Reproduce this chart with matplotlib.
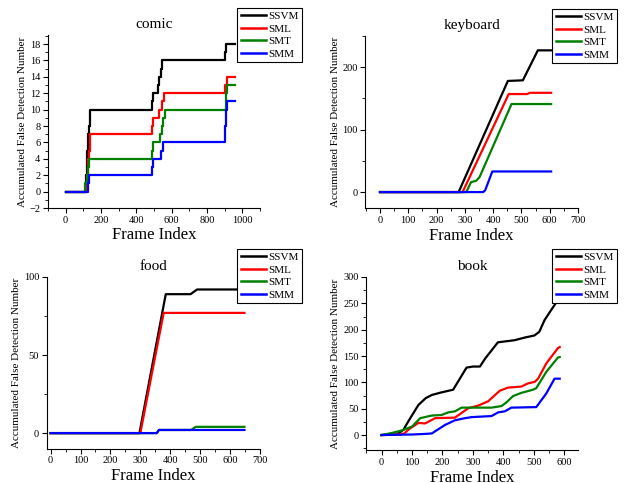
import matplotlib
matplotlib.use("Agg")
import matplotlib.pyplot as plt
from matplotlib.ticker import MultipleLocator

plt.rcParams['font.family'] = ['Liberation Serif', 'DejaVu Serif']

labels = ['SSVM', 'SML', 'SMT', 'SMM']
colors = ['#000000', '#ff0000', '#008000', '#0000ff']

# comic (step data)
comic_ssvm_x = [0, 115, 120, 125, 130, 135, 140, 490, 495, 520, 530, 540, 548, 555, 900, 910, 960]
comic_ssvm_y = [0, 2, 5, 7, 8, 9, 10, 11, 12, 13, 14, 15, 16, 16, 17, 18, 18]
comic_sml_x = [0, 120, 125, 130, 135, 140, 490, 495, 530, 545, 558, 900, 915, 960]
comic_sml_y = [0, 2, 4, 5, 6, 7, 8, 9, 10, 11, 12, 13, 14, 14]
comic_smt_x = [0, 110, 120, 125, 130, 490, 495, 535, 545, 552, 560, 905, 910, 915, 960]
comic_smt_y = [0, 1, 2, 3, 4, 5, 6, 7, 8, 9, 10, 11, 12, 13, 13]
comic_smm_x = [0, 125, 130, 490, 495, 540, 550, 900, 905, 910, 915, 960]
comic_smm_y = [0, 1, 2, 3, 4, 5, 6, 8, 9, 10, 11, 11]

# keyboard
kb_ssvm_x = [0, 278, 452, 505, 558, 605]
kb_ssvm_y = [0, 0, 178, 179, 227, 227]
kb_sml_x = [0, 292, 455, 520, 530, 605]
kb_sml_y = [0, 0, 157, 157, 159, 159]
kb_smt_x = [0, 305, 322, 340, 352, 465, 605]
kb_smt_y = [0, 0, 16, 18, 24, 141, 141]
kb_smm_x = [0, 365, 372, 397, 605]
kb_smm_y = [0, 0, 3, 33, 33]

# food
food_ssvm_x = [0, 297, 385, 468, 475, 490, 648]
food_ssvm_y = [0, 0, 89, 89, 90, 92, 92]
food_sml_x = [0, 300, 378, 648]
food_sml_y = [0, 0, 77, 77]
food_smt_x = [0, 355, 362, 470, 485, 648]
food_smt_y = [0, 0, 2, 2, 4, 4]
food_smm_x = [0, 355, 362, 648]
food_smm_y = [0, 0, 2, 2]

# book
book_ssvm_x = [0, 50, 72, 88, 121, 145, 165, 197, 235, 255, 279, 300, 323, 340, 382, 437, 470, 502, 518, 535, 560, 579, 585]
book_ssvm_y = [0, 1, 10, 26, 57, 70, 76, 81, 86, 105, 128, 130, 130, 145, 176, 180, 185, 189, 196, 218, 240, 256, 258]
book_sml_x = [0, 60, 75, 90, 121, 143, 176, 241, 285, 318, 350, 388, 415, 459, 481, 503, 514, 541, 579, 585]
book_sml_y = [0, 1, 3, 11, 23, 22, 32, 33, 51, 56, 64, 84, 90, 92, 98, 101, 107, 136, 165, 167]
book_smt_x = [0, 35, 68, 100, 127, 165, 197, 219, 241, 263, 361, 394, 410, 432, 459, 497, 508, 541, 579, 585]
book_smt_y = [0, 4, 9, 16, 32, 37, 38, 43, 45, 52, 52, 55, 62, 74, 80, 86, 89, 120, 147, 148]
book_smm_x = [0, 100, 140, 165, 208, 241, 274, 296, 361, 383, 405, 426, 508, 541, 568, 585]
book_smm_y = [0, 1, 2, 3, 19, 28, 32, 34, 36, 43, 45, 52, 53, 79, 107, 107]

W, H = 626, 483
fig = plt.figure(figsize=(W / 100, H / 100), dpi=100)


def rect(l, r, t, b):
    return [l / W, 1 - b / H, (r - l) / W, (b - t) / H]


panels = [
    dict(title='comic', rect=rect(48, 260, 35, 208), step=True,
         data=[(comic_ssvm_x, comic_ssvm_y), (comic_sml_x, comic_sml_y),
               (comic_smt_x, comic_smt_y), (comic_smm_x, comic_smm_y)],
         xlim=(-100, 1100), ylim=(-2, 19.1), xmaj=200, xmin=100, ymaj=2, ymin=1,
         xticks=[0, 200, 400, 600, 800, 1000], leg=(302, 8)),
    dict(title='keyboard', rect=rect(365.3, 578, 36, 208.3), step=False,
         data=[(kb_ssvm_x, kb_ssvm_y), (kb_sml_x, kb_sml_y),
               (kb_smt_x, kb_smt_y), (kb_smm_x, kb_smm_y)],
         xlim=(-52, 700), ylim=(-26, 250), xmaj=100, xmin=50, ymaj=100, ymin=50,
         xticks=list(range(0, 701, 100)), leg=(617, 9)),
    dict(title='food', rect=rect(46.7, 260, 277, 448.7), step=False,
         data=[(food_ssvm_x, food_ssvm_y), (food_sml_x, food_sml_y),
               (food_smt_x, food_smt_y), (food_smm_x, food_smm_y)],
         xlim=(-13, 700), ylim=(-10, 100), xmaj=100, xmin=50, ymaj=50, ymin=25,
         xticks=list(range(0, 701, 100)), leg=(302, 249)),
    dict(title='book', rect=rect(366.3, 578, 277, 450.3), step=False,
         data=[(book_ssvm_x, book_ssvm_y), (book_sml_x, book_sml_y),
               (book_smt_x, book_smt_y), (book_smm_x, book_smm_y)],
         xlim=(-50, 645), ylim=(-29, 300), xmaj=100, xmin=50, ymaj=50, ymin=25,
         xticks=list(range(0, 601, 100)), leg=(617, 249)),
]

for p in panels:
    ax = fig.add_axes(p['rect'])
    for (x, y), lab, c in zip(p['data'], labels, colors):
        if p['step']:
            ax.plot(x, y, color=c, lw=1.6, drawstyle='steps-post', label=lab)
        else:
            ax.plot(x, y, color=c, lw=1.6, label=lab)
    ax.set_xlim(*p['xlim'])
    ax.set_ylim(*p['ylim'])
    ax.set_xticks(p['xticks'])
    ax.xaxis.set_minor_locator(MultipleLocator(p['xmin']))
    ax.yaxis.set_major_locator(MultipleLocator(p['ymaj']))
    ax.yaxis.set_minor_locator(MultipleLocator(p['ymin']))
    ax.spines['top'].set_visible(False)
    ax.spines['right'].set_visible(False)
    ax.tick_params(which='major', direction='out', length=3.5, width=0.8, labelsize=7.5, pad=2)
    ax.tick_params(which='minor', direction='out', length=2, width=0.6)
    ax.set_title(p['title'], fontsize=11, pad=5)
    ax.set_xlabel('Frame Index', fontsize=12, labelpad=2)
    ax.set_ylabel('Accumulated False Detection Number', fontsize=8, labelpad=2)
    lx, ly = p['leg']
    leg = ax.legend(loc='upper right', bbox_to_anchor=(lx / W, 1 - ly / H),
                    bbox_transform=fig.transFigure, fontsize=8, frameon=True,
                    fancybox=False, edgecolor='black', framealpha=1,
                    handlelength=2.3, handletextpad=0.2, labelspacing=0.25,
                    borderpad=0.3, borderaxespad=0)
    leg.get_frame().set_linewidth(0.8)
    for line in leg.get_lines():
        line.set_linewidth(1.8)

fig.savefig('out.png', dpi=100)
